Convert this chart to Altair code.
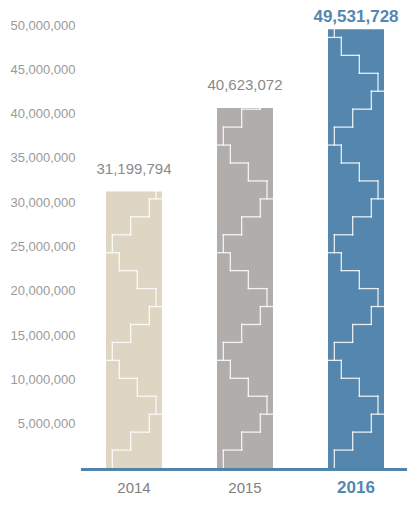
import altair as alt
import pandas as pd

# ---- data ----
years = ["2014", "2015", "2016"]
visitors = [31199794, 40623072, 49531728]
bar_colors = ["#ded5c3", "#b1adab", "#5587ae"]
highlight = [False, False, True]
y_ticks = [5000000, 10000000, 15000000, 20000000, 25000000,
           30000000, 35000000, 40000000, 45000000, 50000000]

# ---- layout / style ----
W, H = 326, 443
PAD = {"left": 73, "top": 17, "right": 0, "bottom": 28}
Y_MAX = 50000000
UNIT_PX = 111.0          # pixel distance between bar centres
FIRST_PX = 53.0          # first bar centre from plot left
BAR_PX = 56.0            # bar width in pixels
x_dom = [-FIRST_PX / UNIT_PX, (W - FIRST_PX) / UNIT_PX]
FONT = "Liberation Sans"
BLUE = "#5587ae"

# decorative step pattern (relative to bar): offsets in px from bar left, step height in value units
STEP = 2025000
A = [6.33, 24.67, 43.33]
B = [13.33, 31.33, 50.0]

bars = pd.DataFrame({
    "year": years,
    "value": visitors,
    "pos": list(range(len(years))),
    "hl": highlight,
})
half = BAR_PX / 2 / UNIT_PX
bars["xa"] = bars["pos"] - half
bars["xb"] = bars["pos"] + half
bars["zero"] = 0

segs = []
for pos, val in zip(bars["pos"], bars["value"]):
    def px(off, pos=pos):
        return pos + (off - BAR_PX / 2) / UNIT_PX
    base = 0
    while base * STEP < val:
        verts = [(A[0], 0, 1), (A[1], 1, 2), (A[2], 2, 3),
                 (B[2], 3, 4), (B[1], 4, 5), (B[0], 5, 6)]
        hors = [(1, A[0], A[1]), (2, A[1], A[2]), (3, A[2], BAR_PX),
                (4, B[1], B[2]), (5, B[0], B[1]), (6, 0.0, B[0])]
        for off, l0, l1 in verts:
            y0 = (base + l0) * STEP
            y1 = min((base + l1) * STEP, val)
            if y0 < val:
                segs.append({"x": px(off), "x2": px(off), "y": y0, "y2": y1})
        for lv, o0, o1 in hors:
            yy = (base + lv) * STEP
            if yy < val:
                segs.append({"x": px(o0), "x2": px(o1), "y": yy, "y2": yy})
        base += 6
pattern = pd.DataFrame(segs)

xs = alt.Scale(domain=x_dom, nice=False, zero=False)
ys = alt.Scale(domain=[0, Y_MAX], nice=False, zero=True)
yaxis = alt.Axis(
    values=y_ticks, format=",d", domain=False, ticks=False, grid=False,
    labelPadding=6, labelFontSize=13, labelColor="#9a9a9a", labelFont=FONT,
    labelBaseline="middle", title=None)


def X(f):
    return alt.X(f, scale=xs, axis=None)


def Y(f):
    return alt.Y(f, scale=ys, axis=yaxis)


bar_layer = alt.Chart(bars).mark_rect().encode(
    x=X("xa:Q"), x2="xb:Q",
    y=Y("value:Q"), y2="zero:Q",
    color=alt.Color("year:N", scale=alt.Scale(domain=years, range=bar_colors), legend=None),
)

pattern_layer = alt.Chart(pattern).mark_rule(
    color="white", strokeWidth=1.3, opacity=0.85, strokeCap="square"
).encode(x=X("x:Q"), x2="x2:Q", y=Y("y:Q"), y2="y2:Q")

baseline = alt.Chart(bars).mark_rule(color="#4f83ab", strokeWidth=2.5, yOffset=1.5).encode(
    x=alt.value(0), x2=alt.value(W), y=Y("zero:Q")
)

val_reg = alt.Chart(bars).transform_filter("!datum.hl").mark_text(
    font=FONT, fontSize=15, color="#8a8a8a", baseline="alphabetic", dy=-18
).encode(x=X("pos:Q"), y=Y("value:Q"), text=alt.Text("value:Q", format=",d"))

val_hl = alt.Chart(bars).transform_filter("datum.hl").mark_text(
    font=FONT, fontSize=17, fontWeight="bold", color=BLUE, baseline="alphabetic", dy=-7
).encode(x=X("pos:Q"), y=Y("value:Q"), text=alt.Text("value:Q", format=",d"))

yr_reg = alt.Chart(bars).transform_filter("!datum.hl").mark_text(
    font=FONT, fontSize=15, color="#808080", baseline="alphabetic", dy=25
).encode(x=X("pos:Q"), y=Y("zero:Q"), text="year:N")

yr_hl = alt.Chart(bars).transform_filter("datum.hl").mark_text(
    font=FONT, fontSize=17, fontWeight="bold", color=BLUE, baseline="alphabetic", dy=25
).encode(x=X("pos:Q"), y=Y("zero:Q"), text="year:N")

chart = alt.layer(
    bar_layer, pattern_layer, baseline, val_reg, val_hl, yr_reg, yr_hl
).properties(
    width=W, height=H,
    autosize=alt.AutoSizeParams(type="none"),
    padding=PAD,
).configure(background="white").configure_view(stroke=None)

chart.save("out.html", embed_options={"renderer": "svg", "actions": False})
